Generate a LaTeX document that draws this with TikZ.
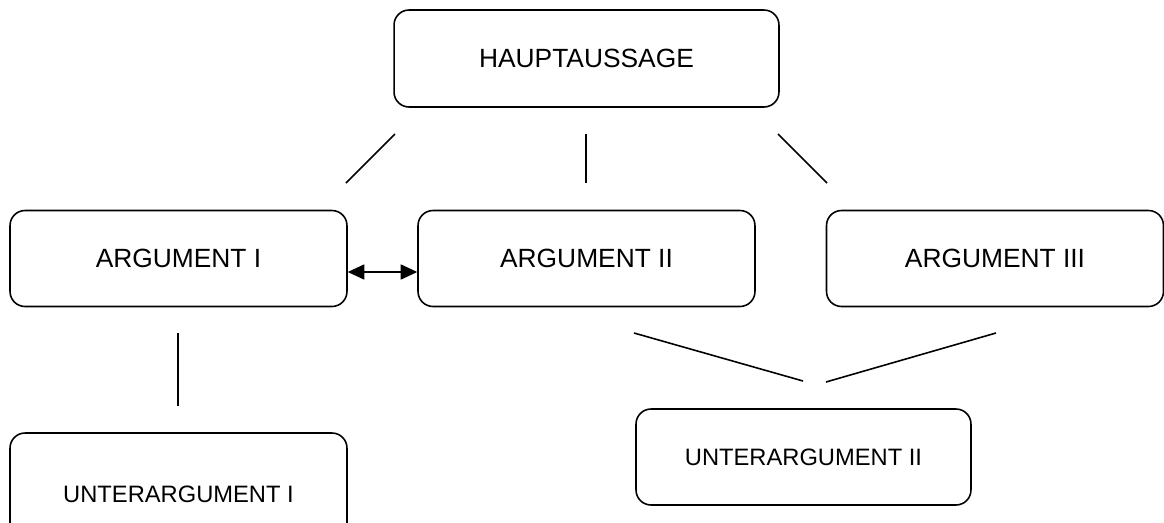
\documentclass[tikz,border=0pt]{standalone}
\usepackage{fontspec}
\setmainfont{Liberation Sans}
\usetikzlibrary{arrows.meta}

\begin{document}
\begin{tikzpicture}[
  x=0.02cm, y=-0.02cm,
  >={Triangle[length=3.3mm,width=3mm]},
  every node/.style={font=\fontsize{15}{18}\selectfont},
  box/.style={draw,line width=0.9pt,rounded corners=0.3cm,inner sep=0pt,
    minimum width=6.74cm,minimum height=1.92cm},
  subtext/.style={font=\fontsize{13.5}{16}\selectfont},
  link/.style={line width=0.9pt}
]
\useasboundingbox (0,0) rectangle (1164,522);
\clip (0,0) rectangle (1164,522);
% boxes
\node[box,minimum width=7.7cm,minimum height=1.94cm] (haupt) at (586.5,58.5) {HAUPTAUSSAGE};
\foreach \n/\x/\t in {arg1/178.5/ARGUMENT I,arg2/586.5/ARGUMENT II,arg3/995/ARGUMENT III} {
  \node[box] (\n) at (\x,258.5) {\t};
}
\node[box,subtext,minimum height=2.44cm] (unter1) at (178.5,494) {UNTERARGUMENT I};
\node[box,subtext,minimum width=6.7cm] (unter2) at (803.5,457) {UNTERARGUMENT II};
% line ends
\coordinate (h1) at (395,134);
\coordinate (h2) at (586,134);
\coordinate (h3) at (778,134);
\coordinate (a1) at (346,183);
\coordinate (a2) at (586,183);
\coordinate (a3) at (827,183);
\coordinate (s1) at (178,333);
\coordinate (t1) at (178,406);
\coordinate (s2) at (634,333);
\coordinate (t2) at (803,381);
\coordinate (t3) at (826,382);
\coordinate (s3) at (996,333);
\draw[link] (h1) -- (a1);
\draw[link] (h2) -- (a2);
\draw[link] (h3) -- (a3);
\draw[link] (s1) -- (t1);
\draw[link] (s2) -- (t2);
\draw[link] (t3) -- (s3);
\draw[link,<->] ([yshift=-0.27cm]arg1.east) -- ([yshift=-0.27cm]arg2.west);
\end{tikzpicture}
\end{document}
